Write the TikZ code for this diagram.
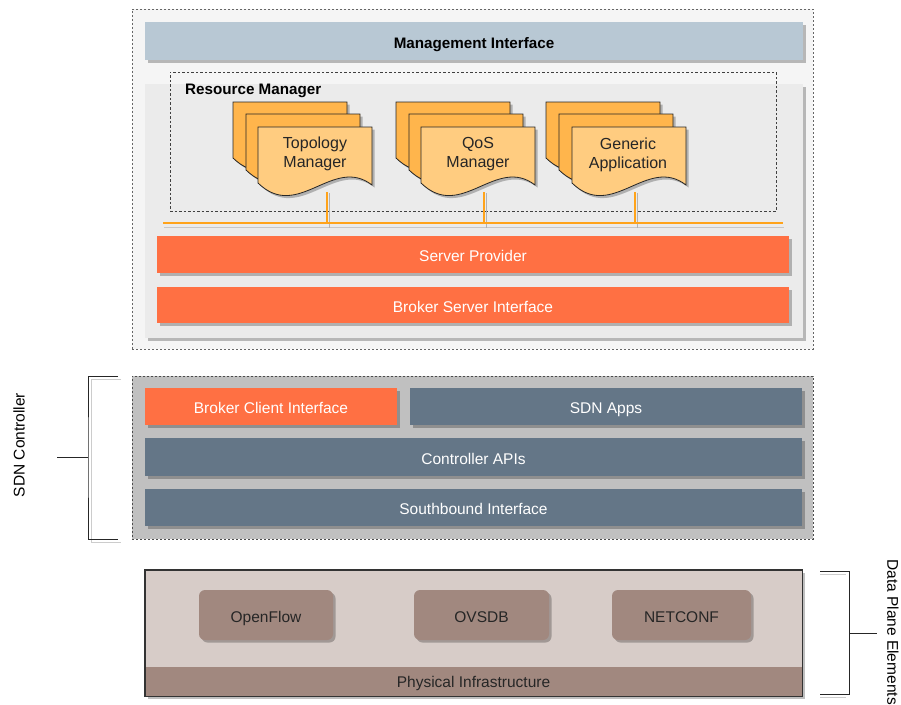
\documentclass[tikz,border=0pt]{standalone}
\usepackage{fontspec}
\setmainfont{Liberation Sans}
\usetikzlibrary{shadows}
\definecolor{mgmtc}{HTML}{B8C8D4}
\definecolor{outerc}{HTML}{F5F5F5}
\definecolor{panelc}{HTML}{EBEBEB}
\definecolor{orangec}{HTML}{FF7043}
\definecolor{slatec}{HTML}{647687}
\definecolor{sdnc}{HTML}{C0C0C0}
\definecolor{dpc}{HTML}{D7CCC8}
\definecolor{brownc}{HTML}{A1887F}
\definecolor{docback}{HTML}{FFB54C}
\definecolor{docfront}{HTML}{FFCC80}
\definecolor{busc}{HTML}{FFA31A}
\tikzset{
  x=1pt,y=-1pt,
  shad/.style={drop shadow={shadow xshift=2.5pt,shadow yshift=-2.5pt,opacity=0.25,fill=black}},
  bar/.style={shad,inner sep=0pt,font=\fontsize{15.5}{18}\selectfont,text=white,text height=14.6pt,text depth=0pt},
  dashbox/.style={draw=black!75,dashed,dash pattern=on 2.5pt off 2pt,line width=0.7pt},
  docline/.style={draw=black!85,line width=0.8pt},
  busline/.style={draw=busc,line width=1.3pt},
  brk/.style={draw=black!85,line width=1pt},
  doctext/.style={align=center,font=\fontsize{16}{19}\selectfont,text=black!85,inner sep=0pt},
  sidetext/.style={font=\fontsize{15.5}{18}\selectfont,inner sep=0pt,text height=11.2pt,text depth=0pt},
}
\newcommand{\mydocshape}[3]{%
  \begin{scope}[shift={(#1,#2)}]
    \filldraw[docline,fill=#3,shad] (0,0) -- (114,0) -- (114,58)
      .. controls (75,28) and (40,95) .. (0,56) -- cycle;
  \end{scope}}
\begin{document}
\begin{tikzpicture}
\useasboundingbox (0,0) rectangle (901,704);
% top outer container
\node[draw=black!60,dashed,dash pattern=on 2pt off 2pt,fill=outerc,minimum width=681,minimum height=340,inner sep=0pt] (outer) at (472.5,179) {};
\node[bar,fill=mgmtc,minimum width=658,minimum height=38,text=black,font=\bfseries\fontsize{15.2}{18}\selectfont] (mgmt) at (474,41) {Management Interface};
\node[fill=panelc,shad,minimum width=658,minimum height=254,inner sep=0pt] (panel) at (474,211) {};
\node[dashbox,minimum width=606,minimum height=139,inner sep=0pt] (rm) at (473,141.5) {};
\node[anchor=west,font=\bfseries\fontsize{15.2}{18}\selectfont,inner sep=0pt,text height=11pt,text depth=0pt] (rmlabel) at (185,88.5) {Resource Manager};
% document stacks
\mydocshape{233}{102}{docback}
\mydocshape{246}{114}{docback}
\mydocshape{258}{127}{docfront}
\mydocshape{396}{102}{docback}
\mydocshape{409}{114}{docback}
\mydocshape{421}{127}{docfront}
\mydocshape{546}{102}{docback}
\mydocshape{559}{114}{docback}
\mydocshape{572}{127}{docfront}
\node[doctext] (topo) at (315,154) {Topology\\Manager};
\node[doctext] (qos) at (478,154) {QoS\\Manager};
\node[doctext] (gen) at (628,155) {Generic\\Application};
% bus
\coordinate (busl) at (163,223);
\coordinate (busr) at (783,223);
\draw[draw=black!22,line width=1pt] (164,227.5) -- (784,227.5);
\draw[draw=black!30,line width=1pt] (329.5,193) -- (329.5,228) (486.5,193) -- (486.5,228) (637.5,193) -- (637.5,228);
\draw[busline] (busl) -- (busr);
\coordinate (t1) at (327,192);
\coordinate (t2) at (484,192);
\coordinate (t3) at (635,192);
\coordinate (b1) at (327,223);
\coordinate (b2) at (484,223);
\coordinate (b3) at (635,223);
\draw[busline] (t1) -- (b1);
\draw[busline] (t2) -- (b2);
\draw[busline] (t3) -- (b3);
\node[bar,fill=orangec,minimum width=632,minimum height=37] (sp) at (473,254.5) {Server Provider};
\node[bar,fill=orangec,minimum width=632,minimum height=36] (bsi) at (473,305) {Broker Server Interface};
% SDN controller
\node[draw=black!70,dashed,dash pattern=on 2pt off 2pt,fill=sdnc,minimum width=681,minimum height=163,inner sep=0pt] (sdn) at (472.5,457.5) {};
\node[bar,fill=orangec,minimum width=252,minimum height=37] (bci) at (271,406.5) {Broker Client Interface};
\node[bar,fill=slatec,minimum width=392,minimum height=37] (apps) at (606,406.5) {SDN Apps};
\node[bar,fill=slatec,minimum width=657,minimum height=38] (capi) at (473.5,457) {Controller APIs};
\node[bar,fill=slatec,minimum width=657,minimum height=37] (sbi) at (473.5,507.5) {Southbound Interface};
% left bracket
\coordinate (lbt) at (118,376);
\coordinate (lbb) at (118,539);
\coordinate (lbm) at (88,457);
\coordinate (lbtick) at (57,457);
\draw[draw=black!20,line width=1pt] (121,379) -| (91,542) -- (121,542);
\draw[brk] (lbt) -| (lbm) |- (lbb);
\draw[brk] (lbm) -- (lbtick);
\node[rotate=90,sidetext] (sdnlabel) at (19,445) {SDN Controller};
% data plane
\node[draw=black!80,fill=dpc,shad,minimum width=657,minimum height=126,inner sep=0pt,line width=0.8pt] (dp) at (473.5,633) {};
\node[fill=brownc,minimum width=656,minimum height=29,inner sep=0pt,font=\fontsize{15.5}{18}\selectfont,text=black!85,text height=12.5pt,text depth=0pt] (phys) at (473.5,681) {Physical Infrastructure};
\draw[draw=black!80,line width=0.8pt] (dp.north west) rectangle (dp.south east);
\node[bar,fill=brownc,rounded corners=6pt,minimum width=134,minimum height=50,text=black!85] (of) at (266,615) {OpenFlow};
\node[bar,fill=brownc,rounded corners=6pt,minimum width=135,minimum height=50,text=black!85] (ovsdb) at (481.5,615) {OVSDB};
\node[bar,fill=brownc,rounded corners=6pt,minimum width=139,minimum height=50,text=black!85] (netconf) at (681.5,615) {NETCONF};
% right bracket
\coordinate (rbt) at (820,571);
\coordinate (rbb) at (820,694);
\coordinate (rbm) at (849,633);
\coordinate (rbtick) at (877,633);
\draw[draw=black!20,line width=1pt] (820,574) -- (846,574) (820,697) -- (846,697);
\draw[brk] (rbt) -| (rbm) |- (rbb);
\draw[brk] (rbm) -- (rbtick);
\node[rotate=-90,sidetext] (dplabel) at (893,632) {Data Plane Elements};
\end{tikzpicture}
\end{document}
